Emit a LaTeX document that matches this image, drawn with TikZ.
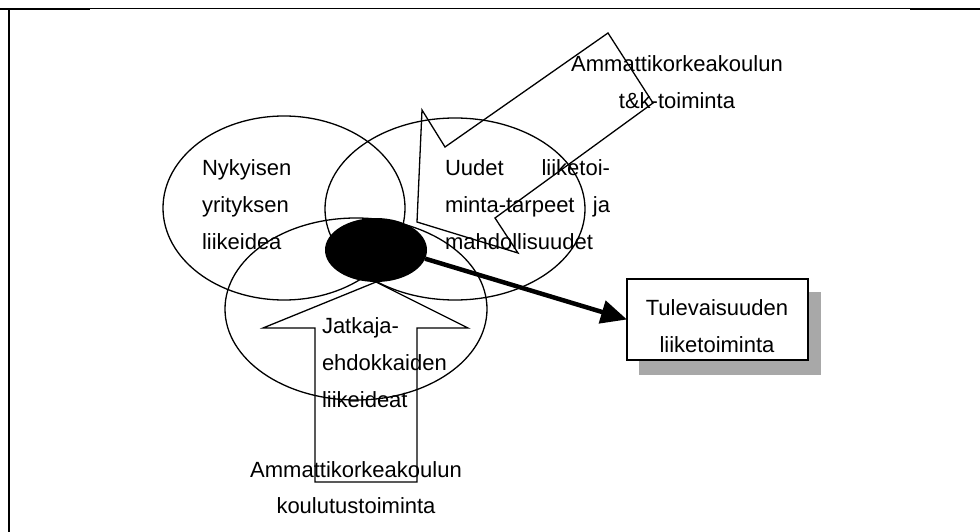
\documentclass[tikz,border=0pt]{standalone}
\usepackage{fontspec}
\setmainfont{Liberation Sans}
\usetikzlibrary{shapes.geometric,arrows.meta}

\definecolor{shadowgray}{gray}{0.66}

\begin{document}
\begin{tikzpicture}[x=1pt,y=-1pt,
  every node/.style={inner sep=0pt, outer sep=0pt},
  txt/.style={font=\fontsize{22}{37}\selectfont, align=left},
  ctxt/.style={font=\fontsize{22}{37}\selectfont, align=center},
  setring/.style={draw, ellipse, line width=1.3pt},
  blockarrow/.style={draw, line width=1.3pt, line join=miter},
  frameline/.style={line width=2.2pt},
  flow/.style={line width=4.5pt, -{Triangle[length=26pt,width=23pt]}}
]
\useasboundingbox (0,0) rectangle (980,532);

% page frame
\draw[frameline] (0,9) -- (90,9);
\draw[line width=1pt] (90,9) -- (910,9);
\draw[frameline] (910,9) -- (980,9);
\draw[frameline] (9,9) -- (9,532);

% the three overlapping sets
\node[setring, minimum width=242, minimum height=184] (curr)  at (284,208) {};
\node[setring, minimum width=260, minimum height=182] (needs) at (455,209) {};
\node[setring, minimum width=262, minimum height=182] (cand)  at (356,309) {};

% their common core
\node[fill=black, ellipse, minimum width=102, minimum height=64] (core) at (376,250) {};

% block arrow from below (education)
\draw[blockarrow] (core.south) -- (468,328) -- (417,328) -- (417,482)
  -- (315,482) -- (315,328) -- (263,328) -- cycle;

% block arrow from upper right (R&D)
\draw[blockarrow] (608,33) -- (653,103) -- (495,218) -- (518,253)
  -- (417,222) -- (422,110) -- (445,147) -- cycle;

% outcome box with its shadow
\node[fill=shadowgray, minimum width=182, minimum height=83] (futshadow) at (730,333.5) {};
\node[draw, fill=white, line width=1.3pt, minimum width=181, minimum height=81] (fut) at (717.5,319.5) {};

% texts
\node[txt, anchor=west] (currtxt) at (202,205) {Nykyisen\\yrityksen\\liikeidea};
\node[txt, anchor=west] (needstxt) at (445,205)
  {\hbox to 165pt{Uudet\hfill liiketoi-}\\\hbox to 165pt{minta-tarpeet\hfill ja}\\mahdollisuudet};
\node[ctxt] (rdtxt) at (677,82) {Ammattikorkeakoulun\\t\&k-toiminta};
\node[txt, anchor=west] (candtxt) at (322,363) {Jatkaja-\\ehdokkaiden\\liikeideat};
\node[ctxt, font=\fontsize{22}{36}\selectfont] (edutxt) at (356,488) {Ammattikorkeakoulun\\koulutustoiminta};
\node[ctxt] (futtxt) at (717,326) {Tulevaisuuden\\liiketoiminta};

% flow to the future business
\draw[flow] (core.-10) -- (fut.west);
\end{tikzpicture}
\end{document}
